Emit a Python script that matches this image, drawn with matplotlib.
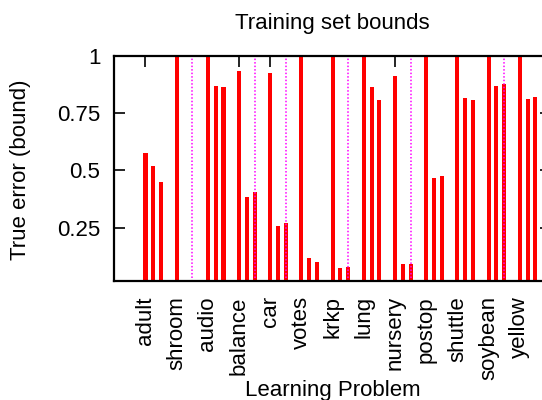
import numpy as np
import matplotlib
matplotlib.use("Agg")
import matplotlib.pyplot as plt

plt.rcParams['font.family'] = ['Liberation Sans', 'DejaVu Sans']

# data
problems = ["adult", "shroom", "audio", "balance", "car", "votes", "krkp",
            "lung", "nursery", "postop", "shuttle", "soybean", "yellow"]
bound_1 = [0.577, 1.0, 1.0, 0.932, 0.925, 1.0, 1.0, 1.0, 0.910, 1.0, 1.0, 1.0, 1.0]
bound_2 = [0.518, 0.0, 0.867, 0.384, 0.259, 0.117, 0.074, 0.862, 0.092, 0.468, 0.814, 0.867, 0.810]
bound_3 = [0.447, 0.0, 0.864, 0.407, 0.270, 0.098, 0.078, 0.806, 0.092, 0.476, 0.806, 0.878, 0.820]
# groups with the dotted magenta marker
marked = [0, 1, 0, 1, 1, 0, 1, 0, 1, 0, 0, 1, 0]
yticks = [0.25, 0.5, 0.75, 1]
ytick_labels = ["0.25", "0.5", "0.75", "1"]

fs = 16

fig = plt.figure(figsize=(5.42, 4.0), dpi=100)
# axes runs off the right edge like the cropped original
ax = fig.add_axes([114.3 / 542, 1 - 281 / 400, (551 - 114.3) / 542, (281 - 55.7) / 400])

x = np.arange(len(problems)) * 4
for off, vals in enumerate([bound_1, bound_2, bound_3]):
    ax.bar(x + off, vals, width=0.52, color="#ff0000", linewidth=0, zorder=1)

mx = x[np.array(marked, dtype=bool)] + 2
ax.vlines(mx, 0, 1, colors="#ff00ff", linewidth=1.1, linestyles=(0, (1, 1.3)), zorder=2)

ax.set_xlim(-4, 52)
ax.set_ylim(0.017, 1)
ax.set_axisbelow(True)

ax.set_xticks(x)
ax.set_xticklabels(problems, rotation=90, fontsize=fs)
ax.set_yticks(yticks)
ax.set_yticklabels(ytick_labels, fontsize=fs)
ax.tick_params(direction="in", length=7.7, width=1.2, top=True, right=True)
ax.tick_params(axis="x", pad=11)
ax.tick_params(axis="y", pad=10)

for s in ax.spines.values():
    s.set_linewidth(1.6)

ax.set_title("Training set bounds", fontsize=fs, pad=19.5)
ax.set_xlabel("Learning Problem", fontsize=fs)
ax.xaxis.set_label_coords(0.5, -0.484)
ax.xaxis.label.set_va("center")
ax.set_ylabel("True error (bound)", fontsize=fs)
ax.yaxis.set_label_coords(-0.214, 0.493)
ax.yaxis.label.set_va("center")

fig.savefig("out.png", dpi=100)
